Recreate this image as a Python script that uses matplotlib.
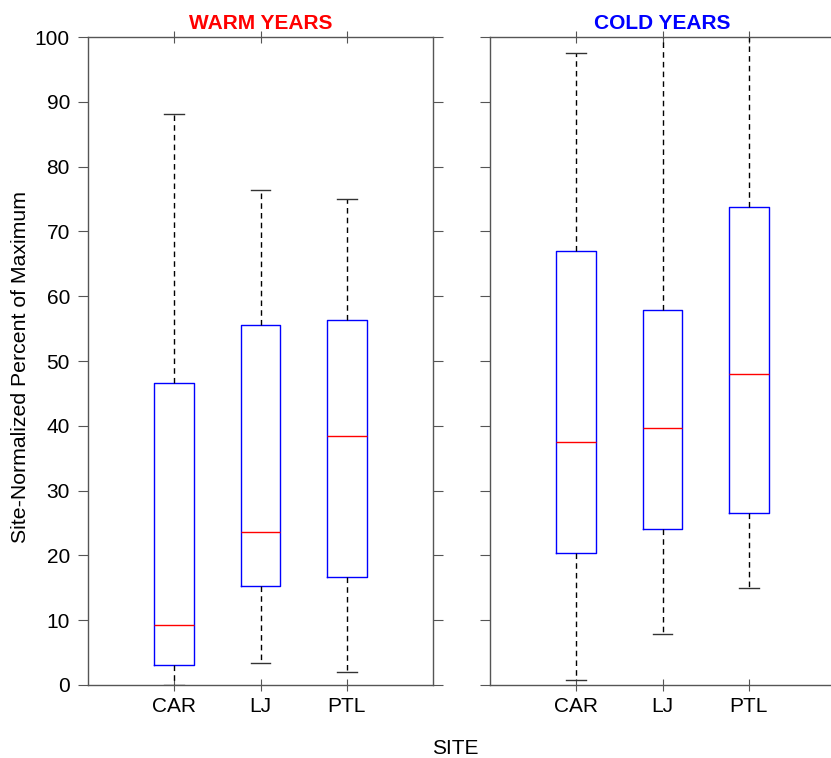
import matplotlib.pyplot as plt

plt.rcParams['font.family'] = ['Liberation Sans', 'DejaVu Sans']

sites = ['CAR', 'LJ', 'PTL']

# warm years: whisker low, q1, median, q3, whisker high
warm_low = [0.0, 3.4, 2.0]
warm_q1 = [3.1, 15.3, 16.6]
warm_med = [9.2, 23.6, 38.4]
warm_q3 = [46.6, 55.5, 56.3]
warm_high = [88.1, 76.4, 75.0]

# cold years
cold_low = [0.8, 7.8, 15.0]
cold_q1 = [20.3, 24.1, 26.5]
cold_med = [37.5, 39.7, 48.0]
cold_q3 = [67.0, 57.8, 73.8]
cold_high = [97.5, 101.2, 101.2]

spine_col = '#555555'


def make_stats(low, q1, med, q3, high):
    out = []
    for i in range(len(sites)):
        out.append(dict(label=sites[i], whislo=low[i], q1=q1[i], med=med[i],
                        q3=q3[i], whishi=high[i], fliers=[]))
    return out


fig = plt.figure(figsize=(8.31, 7.58), dpi=100)
ax1 = fig.add_axes([88 / 831, 1 - 685 / 758, 345 / 831, 648 / 758])
ax2 = fig.add_axes([490 / 831, 1 - 685 / 758, 345 / 831, 648 / 758])

panels = [(ax1, make_stats(warm_low, warm_q1, warm_med, warm_q3, warm_high), 'WARM YEARS', 'red'),
          (ax2, make_stats(cold_low, cold_q1, cold_med, cold_q3, cold_high), 'COLD YEARS', 'blue')]

for ax, stats, title, tcol in panels:
    ax.bxp(stats, positions=[1, 2, 3], widths=0.46, showfliers=False,
           boxprops=dict(color='blue', linewidth=1),
           medianprops=dict(color='red', linewidth=1),
           whiskerprops=dict(color='black', linestyle=(0, (4, 3)), linewidth=1),
           capprops=dict(color='#333333', linewidth=1), capwidths=0.23)
    ax.set_xlim(0, 4)
    ax.set_ylim(0, 100)
    ax.set_yticks(range(0, 101, 10))
    ax.set_xticks([1, 2, 3])
    ax.set_xticklabels(sites)
    for s in ax.spines.values():
        s.set_color(spine_col)
        s.set_linewidth(1)
    ax.tick_params(axis='x', which='both', direction='inout', length=8, top=True,
                   color=spine_col, labelsize=15, pad=5)
    ax.tick_params(axis='y', direction='out', length=7, right=True,
                   color=spine_col, labelsize=15, pad=6)
    ax.text(0.5, 1.006, title, transform=ax.transAxes, ha='center', va='bottom',
            color=tcol, fontsize=15, fontweight='bold')

ax2.tick_params(axis='y', labelleft=False)
fig.text(21 / 831, 1 - 367 / 758, 'Site-Normalized Percent of Maximum', rotation=90,
         ha='center', va='center', fontsize=15.3)
fig.text(455 / 831, 1 - 748 / 758, 'SITE', ha='center', va='center', fontsize=15)

fig.savefig('out.png', dpi=100)
